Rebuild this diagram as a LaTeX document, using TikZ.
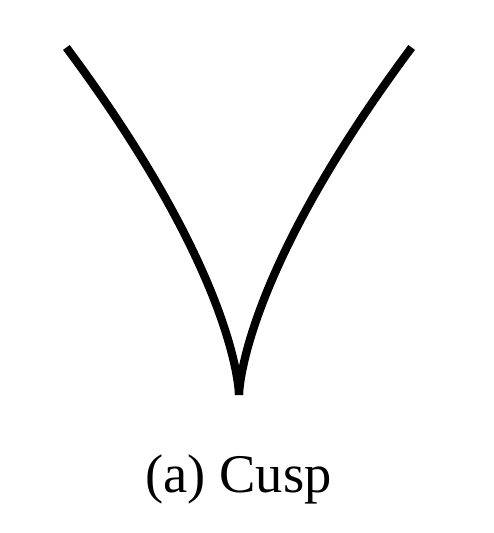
\documentclass[tikz,border=0pt]{standalone}
\usepackage{fontspec}
\setmainfont{Liberation Serif}
\usepackage{tikz}
\usetikzlibrary{shapes,arrows}

\begin{document}
\begin{tikzpicture}[scale = 0.5]
	\useasboundingbox (0,0) rectangle (19.76,21.32);
	\coordinate (tip) at (9.56, 5.52);
	\draw[line width = 0.165cm, color = black] plot[domain = 0:1, samples = 60, smooth] ({9.56 - 6.92*\x*\x*\x}, {5.52 + 13.92*\x*\x});
	\draw[line width = 0.165cm, color = black] plot[domain = 0:1, samples = 60, smooth] ({9.56 + 6.92*\x*\x*\x}, {5.52 + 13.92*\x*\x});
	\node[anchor = base, color = black] (caption) at (9.54, 1.6) {\fontsize{31}{36}\selectfont (a) Cusp};
\end{tikzpicture}
\end{document}
